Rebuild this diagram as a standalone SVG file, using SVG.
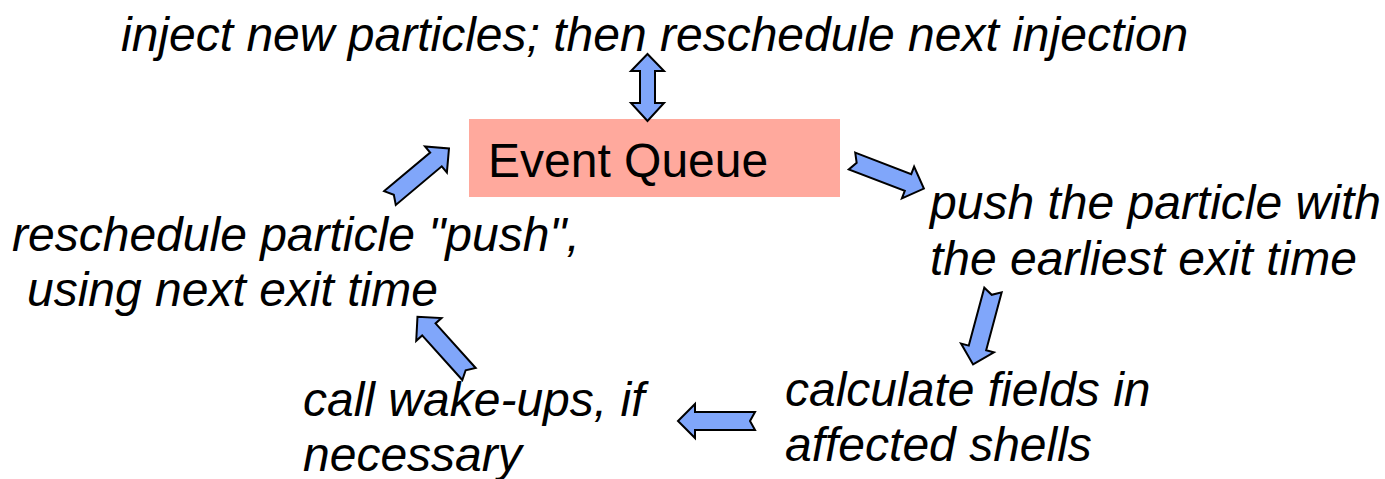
<svg xmlns="http://www.w3.org/2000/svg" width="1385" height="479" viewBox="0 0 1385 479">
  <style>
    .lbl { font-family: "Liberation Sans", Arial, sans-serif; font-size: 48px; font-style: italic; fill: #000; }
    .box-text { font-family: "Liberation Sans", Arial, sans-serif; font-size: 48px; fill: #000; }
    .arrow { fill: #80a6fa; stroke: #000; stroke-width: 2; stroke-linejoin: miter; }
  </style>
  <defs>
    <!-- notched block arrow pointing along +x, tail at origin, length 77 -->
    <path id="blk" d="M0,-9 L60,-9 L60,-17 L77,0 L60,17 L60,9 L0,9 L5,0 Z"/>
  </defs>

  <g id="event-queue">
    <rect x="469" y="119" width="371" height="78" fill="#ffa99d"/>
    <text class="box-text" x="488" y="177">Event Queue</text>
  </g>

  <g id="inject">
    <text class="lbl" x="121" y="51">inject new particles; then reschedule next injection</text>
  </g>

  <g id="push">
    <text class="lbl" x="930" y="219">push the particle with</text>
    <text class="lbl" x="930" y="275">the earliest exit time</text>
  </g>

  <g id="calculate">
    <text class="lbl" x="785" y="406">calculate fields in</text>
    <text class="lbl" x="785" y="461">affected shells</text>
  </g>

  <g id="wakeups">
    <text class="lbl" x="303" y="416">call wake-ups, if</text>
    <text class="lbl" x="303" y="471">necessary</text>
  </g>

  <g id="reschedule">
    <text class="lbl" x="12" y="251">reschedule particle "push",</text>
    <text class="lbl" x="27" y="306">using next exit time</text>
  </g>

  <g id="connectors">
    <!-- two-way arrow between injection and the queue -->
    <path class="arrow" d="M647.5,54 L664,71 L655,71 L655,103 L664,103 L647.5,121 L631,103 L640,103 L640,71 L631,71 Z"/>
    <use class="arrow" href="#blk" transform="translate(852,161) rotate(21)"/>
    <use class="arrow" href="#blk" transform="translate(993,290) rotate(105)"/>
    <use class="arrow" href="#blk" transform="translate(755,421) rotate(180)"/>
    <use class="arrow" href="#blk" transform="translate(469,374) rotate(-132)"/>
    <use class="arrow" href="#blk" transform="translate(390,198) rotate(-40)"/>
  </g>
</svg>
